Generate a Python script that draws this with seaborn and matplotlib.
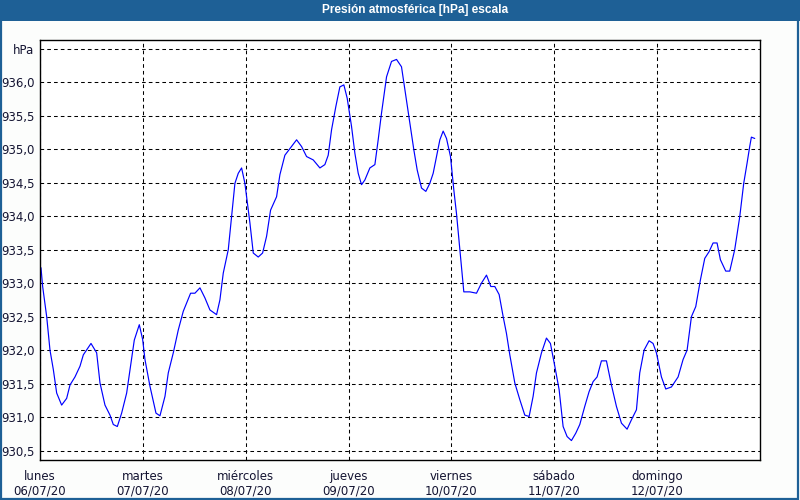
import matplotlib
matplotlib.use("Agg")
import matplotlib.pyplot as plt
import seaborn as sns
import pandas as pd
from matplotlib.patches import Rectangle

# ---- data ----
hours = [0.23, 0.62, 1.56, 2.33, 3.11, 3.89, 5.05, 6.22, 7.0, 8.16, 9.33, 10.11, 11.9,
         13.22, 14.0, 15.16, 16.33, 17.1, 18.04, 19.05, 20.22, 21.0, 22.0, 23.17, 23.95,
         24.49, 25.66, 27.06, 27.99, 29.16, 29.93, 31.1, 32.26, 33.43, 35.14, 36.15, 37.32,
         38.48, 39.65, 41.2, 41.98, 42.76, 43.93, 44.7, 45.48, 46.26, 47.04, 47.81, 48.98,
         49.76, 50.92, 51.94, 52.87, 53.8, 55.2, 55.98,
         57.14, 58.7, 59.87, 61.03, 62.2, 63.75, 65.31, 66.47, 67.25, 68.03, 69.04, 69.97,
         70.9, 71.68, 72.69, 73.47, 74.25, 75.02, 75.8, 76.97, 78.14, 78.91, 79.69, 80.86,
         82.02, 83.19, 84.35, 85.13, 86.3, 87.23, 88.01, 89.02, 90.03, 90.96, 91.74, 92.52,
         93.3, 94.07, 94.85, 95.78, 96.56, 97.18, 97.96, 98.89, 100.29, 101.85, 103.01,
         104.18, 105.19, 106.12, 107.13, 108.07, 108.84, 109.62, 110.79,
         111.96, 113.12, 114.13, 115.06, 115.84, 117.01, 118.17, 119.1, 120.12, 121.13,
         122.06, 122.99, 124.0, 125.01, 125.95, 127.11, 128.12, 129.06, 129.99, 131.0,
         132.17, 133.33, 134.5, 135.67, 136.99, 138.0, 139.17, 139.94, 140.95, 142.12,
         143.05, 143.83, 145.0, 146.01, 147.33, 148.89, 150.05, 150.99, 152.0, 153.01,
         154.1, 155.11, 156.12, 157.05, 157.98, 158.76, 160.0, 160.94, 162.1, 163.27,
         164.2, 164.98, 165.6, 165.99, 166.77]
pressure = [933.23, 932.95, 932.50, 932.0, 931.71, 931.36, 931.18, 931.28, 931.48, 931.6,
            931.76, 931.93, 932.10, 931.96, 931.51, 931.18, 931.03, 930.89, 930.86, 931.06,
            931.36, 931.71, 932.15, 932.38, 932.16, 931.86, 931.46, 931.06, 931.02, 931.31,
            931.66, 931.96, 932.30, 932.58, 932.85, 932.85, 932.93, 932.78, 932.60, 932.53,
            932.75, 933.15, 933.50, 933.99, 934.49, 934.64, 934.72, 934.49, 933.90, 933.45,
            933.39, 933.45, 933.70, 934.09, 934.29, 934.62,
            934.91, 935.04, 935.14, 935.04, 934.89, 934.84, 934.72, 934.77, 934.91, 935.29,
            935.64, 935.93, 935.96, 935.76, 935.34, 934.94, 934.64, 934.47, 934.54, 934.72,
            934.77, 935.14, 935.54, 936.08, 936.31, 936.34, 936.23, 935.89, 935.39, 934.99,
            934.69, 934.42, 934.37, 934.49, 934.64, 934.89, 935.14, 935.27, 935.16, 934.89,
            934.39, 934.04, 933.50, 932.87, 932.87, 932.85, 933.0, 933.12, 932.95, 932.95,
            932.83, 932.50, 932.25, 931.93, 931.51,
            931.26, 931.03, 931.01, 931.31, 931.66, 931.96, 932.18, 932.10, 931.76, 931.41,
            930.86, 930.71, 930.65, 930.76, 930.89, 931.16, 931.38, 931.53, 931.6, 931.84,
            931.84, 931.48, 931.16, 930.91, 930.82, 930.96, 931.11, 931.66, 932.0, 932.14,
            932.10, 931.96, 931.60, 931.42, 931.45, 931.60, 931.86, 932.0, 932.50, 932.65,
            933.05, 933.37, 933.47, 933.60, 933.60, 933.35, 933.18, 933.18, 933.50, 933.99,
            934.49, 934.79, 935.04, 935.18, 935.16]
day_names = ["lunes", "martes", "miércoles", "jueves", "viernes", "sábado", "domingo"]
day_dates = ["06/07/20", "07/07/20", "08/07/20", "09/07/20", "10/07/20", "11/07/20", "12/07/20"]
y_ticks = [930.5, 931.0, 931.5, 932.0, 932.5, 933.0, 933.5, 934.0, 934.5, 935.0, 935.5, 936.0, 936.5]
y_labels = ["930,5", "931,0", "931,5", "932,0", "932,5", "933,0", "933,5", "934,0",
            "934,5", "935,0", "935,5", "936,0", "hPa"]
title = "Presión atmosférica [hPa] escala"

df = pd.DataFrame({"hora": hours, "presion": pressure})

sns.set_theme(style="white")
plt.rcParams["font.family"] = ["DejaVu Sans"]

fig = plt.figure(figsize=(8, 5), dpi=100)
fig.patch.set_facecolor("#FCFDFC")

BLUE = "#1E6096"
TXT = "#141432"
# title bar and window frame
fig.patches.append(Rectangle((0, 1 - 20.5 / 500), 1, 20.5 / 500, transform=fig.transFigure,
                             facecolor=BLUE, edgecolor="none", zorder=0))
fig.patches.append(Rectangle((0.001, 0.002), 0.997, 0.995, transform=fig.transFigure,
                             facecolor="none", edgecolor=BLUE, linewidth=1.6, zorder=0))
fig.text(415.5 / 800, 1 - 10.5 / 500, title, color="white", fontsize=8.6, fontweight="bold",
         family=["Liberation Sans", "DejaVu Sans"], ha="center", va="center")

ax = fig.add_axes([40 / 800, 1 - 460 / 500, 720 / 800, 420 / 500])
ax.set_facecolor("white")

sns.lineplot(data=df, x="hora", y="presion", ax=ax, color="#0000FF", linewidth=0.85)

ax.set_xlim(0, 168)
ax.set_ylim(930.36, 936.63)

ax.set_yticks(y_ticks)
ax.set_yticklabels(y_labels)
ax.set_xticks([24 * i for i in range(7)])
ax.set_xticklabels([f"{n}\n{d}" for n, d in zip(day_names, day_dates)], linespacing=1.15)

ax.grid(True, color="black", linestyle=(0, (3.5, 3)), linewidth=0.75)
ax.tick_params(axis="y", length=0, pad=4, labelsize=8.5, labelcolor=TXT)
ax.tick_params(axis="x", length=4, width=0.75, color="black", pad=3, labelsize=8.5,
               labelcolor=TXT, direction="out")
for s in ax.spines.values():
    s.set_color("black")
    s.set_linewidth(1)
ax.set_xlabel("")
ax.set_ylabel("")

fig.savefig("out.png", dpi=100, facecolor=fig.get_facecolor())
